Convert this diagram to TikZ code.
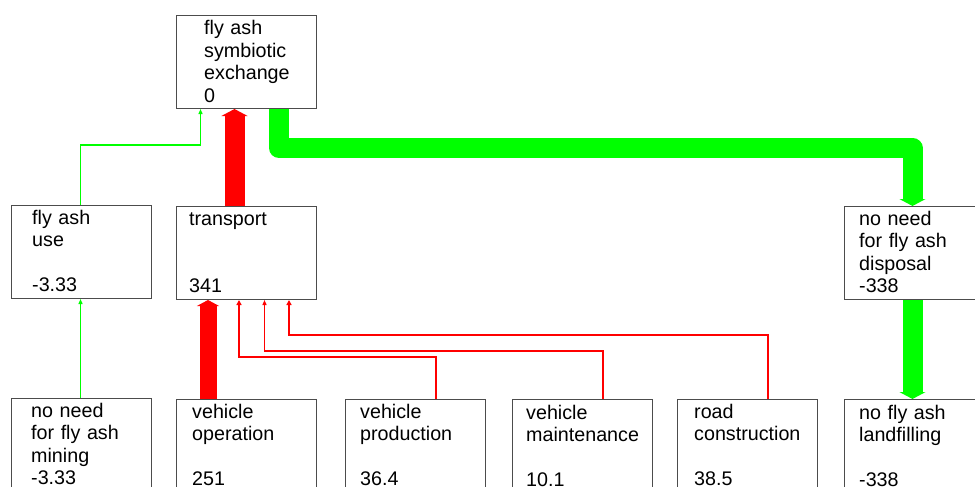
\documentclass[tikz,border=0pt]{standalone}
\usepackage{fontspec}
\setmainfont{Liberation Sans}
\usetikzlibrary{arrows.meta}

\tikzset{
  blk/.style={draw=black!70, line width=1pt, fill=white, anchor=north west,
    minimum width=140pt, minimum height=93pt, inner sep=0pt},
  txt/.style={anchor=base west, inner sep=0pt, text width=135pt, align=left,
    font=\fontsize{19.7}{22.5}\selectfont},
  thinflow/.style={draw=#1, line width=1.4pt, -{Triangle[width=4pt,length=5pt]}},
  midflow/.style={draw=red, line width=2pt, -{Triangle[width=5pt,length=5pt]}},
  fatflow/.style={draw=#1, line width=20pt, line join=round,
    -{Triangle[width=26pt,length=7pt]}}
}

\begin{document}
\begin{tikzpicture}[x=1pt,y=-1pt]
  \useasboundingbox (0,0) rectangle (975,487);

  % boxes
  \node[blk] (FAS)  at (176,15)  {};
  \node[blk] (USE)  at (11,205)  {};
  \node[blk] (TR)   at (176,206) {};
  \node[blk] (DISP) at (844,206) {};
  \node[blk] (MIN)  at (11,398)  {};
  \node[blk] (VOP)  at (176,399) {};
  \node[blk] (VPR)  at (345,399) {};
  \node[blk] (VMA)  at (512,399) {};
  \node[blk] (ROAD) at (677,399) {};
  \node[blk] (LAND) at (844,399) {};

  % flows
  \draw[thinflow=green] ([xshift=69.5pt]MIN.north west) -- ([xshift=69.5pt]USE.south west);
  \draw[thinflow=green] ([xshift=69.5pt]USE.north west) -- ++(0,-60) -| ([xshift=24.5pt]FAS.south west);
  \draw[fatflow=red] ([xshift=58.5pt]TR.north west) -- ([xshift=58.5pt]FAS.south west);
  \draw[fatflow=green] ([xshift=103pt]FAS.south west) -- ++(0,39) -| ([xshift=68.5pt]DISP.north west);
  \draw[fatflow=green] ([xshift=68.5pt]DISP.south west) -- ([xshift=68.5pt]LAND.north west);
  \draw[fatflow=red, line width=17pt, -{Triangle[width=22pt,length=6pt]}]
    ([xshift=32pt]VOP.north west) -- ([xshift=32pt]TR.south west);
  \draw[midflow] ([xshift=91pt]VPR.north west) -- ++(0,-42) -| ([xshift=63pt]TR.south west);
  \draw[thinflow=red] ([xshift=91pt]VMA.north west) -- ++(0,-48) -| ([xshift=88.5pt]TR.south west);
  \draw[midflow] ([xshift=91pt]ROAD.north west) -- ++(0,-64) -| ([xshift=113pt]TR.south west);

  % labels
  \node[txt] (FASt)  at (204,35)  {fly ash\\symbiotic\\exchange\\0};
  \node[txt] (USEt)  at (32,224)  {fly ash\\use\\[22.5pt]-3.33};
  \node[txt] (TRt)   at (189,225) {transport\\[45pt]341};
  \node[txt] (DISPt) at (859,225) {no need\\for fly ash\\disposal\\-338};
  \node[txt] (MINt)  at (31,417)  {no need\\for fly ash\\mining\\-3.33};
  \node[txt] (VOPt)  at (192,418) {vehicle\\operation\\[22.5pt]251};
  \node[txt] (VPRt)  at (360,418) {vehicle\\production\\[22.5pt]36.4};
  \node[txt] (VMAt)  at (526,419) {vehicle\\maintenance\\[22.5pt]10.1};
  \node[txt] (ROADt) at (694,418) {road\\construction\\[22.5pt]38.5};
  \node[txt] (LANDt) at (859,419) {no fly ash\\landfilling\\[22.5pt]-338};
\end{tikzpicture}
\end{document}
